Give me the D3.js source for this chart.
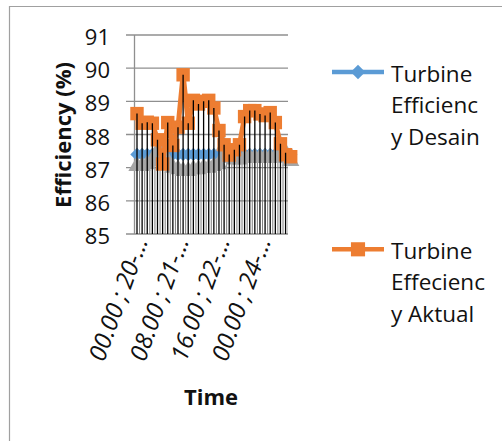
<!DOCTYPE html>
<html>
<head>
<meta charset="utf-8">
<script src="https://cdn.jsdelivr.net/npm/d3@7"></script>
<style>
  body { margin: 0; background: #fff; }
  svg { display: block; font-family: "Open Sans", sans-serif; }
</style>
</head>
<body>
<div id="chart"></div>
<script>
// categories every 4 hours (labels shown every 8th, cut like the original)
const categories = [
  "00.00 ; 20-…", "04.00 ; 20-…", "08.00 ; 20-…", "12.00 ; 20-…", "16.00 ; 20-…", "20.00 ; 20-…",
  "00.00 ; 21-…", "04.00 ; 21-…", "08.00 ; 21-…", "12.00 ; 21-…", "16.00 ; 21-…", "20.00 ; 21-…",
  "00.00 ; 22-…", "04.00 ; 22-…", "08.00 ; 22-…", "12.00 ; 22-…", "16.00 ; 22-…", "20.00 ; 22-…",
  "00.00 ; 23-…", "04.00 ; 23-…", "08.00 ; 23-…", "12.00 ; 23-…", "16.00 ; 23-…", "20.00 ; 23-…",
  "00.00 ; 24-…", "04.00 ; 24-…", "08.00 ; 24-…", "12.00 ; 24-…", "16.00 ; 24-…", "20.00 ; 24-…",
  "00.00 ; 25-…"
];
const shownLabels = ["00.00 ; 20-…", "08.00 ; 21-…", "16.00 ; 22-…", "00.00 ; 24-…"];

const desain = [
  87.4, 87.4, 87.4, 87.4, 87.4, 87.4, 87.4, 87.4, 87.4, 87.4, 87.4,
  87.4, 87.4, 87.4, 87.4, 87.4, 87.4, 87.4, 87.4, 87.4, 87.4, 87.4,
  87.4, 87.4, 87.4, 87.4, 87.4, 87.4, 87.4, 87.4, 87.4
];
const aktual = [
  88.63, 88.34, 88.37, 88.34, 87.84, 87.11, 88.36, 87.67, 88.22, 89.8, 88.34,
  89.03, 88.92, 89.0, 89.03, 88.8, 88.12, 87.69, 87.38, 87.54, 87.69, 88.54,
  88.72, 88.72, 88.62, 88.57, 88.66, 88.36, 87.72, 87.39, 87.33
];
const ketiga = [
  87.05, 87.05, 87.1, 87.2, 87.5, 87.45, 87.2, 87.0, 86.95, 86.9, 86.9,
  86.95, 86.95, 87.0, 87.0, 87.05, 87.1, 87.65, 87.3, 87.25, 87.25, 87.3,
  87.3, 87.3, 87.3, 87.3, 87.3, 87.3, 87.35, 87.45, 87.2
];
const yTicks = [85, 86, 87, 88, 89, 90, 91];

// diamond as wide as it is tall, like the office marker
const diamond = {
  draw(ctx, size) {
    const r = Math.sqrt(size / 2);
    ctx.moveTo(0, -r);
    ctx.lineTo(r, 0);
    ctx.lineTo(0, r);
    ctx.lineTo(-r, 0);
    ctx.closePath();
  }
};

const legendItems = [
  { lines: ["Turbine", "Efficienc", "y Desain"], color: "#5B9BD5", shape: diamond, size: 105 },
  { lines: ["Turbine", "Effecienc", "y Aktual"], color: "#ED7D31", shape: d3.symbolSquare, size: 200 }
];

const width = 502;
const height = 441;
const plot = { left: 134.5, right: 288, top: 35, bottom: 234 };

const svg = d3.select("#chart").append("svg")
  .attr("width", width)
  .attr("height", height);

// frame
svg.append("path")
  .attr("d", `M9.5,${height} V6.5 H${width}`)
  .attr("fill", "none")
  .attr("stroke", "#a0a0a0")
  .attr("stroke-width", 1.2);

const x = d3.scalePoint().domain(categories).range([137, 290.7]);
const y = d3.scaleLinear().domain([85, 91]).range([plot.bottom, plot.top]);

// horizontal gridlines
svg.append("g")
  .selectAll("line")
  .data(yTicks)
  .join("line")
  .attr("x1", 126)
  .attr("x2", plot.right)
  .attr("y1", d => y(d))
  .attr("y2", d => y(d))
  .attr("stroke", "#8f8f8f")
  .attr("stroke-width", 1.3);

// value axis line
svg.append("line")
  .attr("x1", plot.left).attr("x2", plot.left)
  .attr("y1", y(91)).attr("y2", y(85))
  .attr("stroke", "#8f8f8f")
  .attr("stroke-width", 1.3);

// y tick labels
svg.append("g")
  .selectAll("text")
  .data(yTicks)
  .join("text")
  .attr("x", 110)
  .attr("y", d => y(d) + 1)
  .attr("text-anchor", "end")
  .attr("dominant-baseline", "central")
  .attr("font-size", 22)
  .attr("fill", "#111")
  .text(d => d);

svg.append("clipPath").attr("id", "plot-clip")
  .append("rect")
  .attr("x", plot.left).attr("y", 0)
  .attr("width", plot.right - plot.left).attr("height", plot.bottom + 1);

// light lines between categories, up to the grey series
const mids = d3.range(categories.length - 1);
svg.append("g")
  .attr("clip-path", "url(#plot-clip)")
  .selectAll("line")
  .data(mids)
  .join("line")
  .attr("x1", i => (x(categories[i]) + x(categories[i + 1])) / 2)
  .attr("x2", i => (x(categories[i]) + x(categories[i + 1])) / 2)
  .attr("y1", y(85))
  .attr("y2", i => y(Math.min(ketiga[i], ketiga[i + 1])))
  .attr("stroke", "#6e6e6e")
  .attr("stroke-width", 0.9);

function drawSeries(values, color, shape, size) {
  const line = d3.line()
    .x((d, i) => x(categories[i]))
    .y(d => y(d));
  svg.append("path")
    .datum(values)
    .attr("d", line)
    .attr("fill", "none")
    .attr("stroke", color)
    .attr("stroke-width", 5)
    .attr("stroke-linejoin", "round");
  svg.append("g")
    .selectAll("path")
    .data(values)
    .join("path")
    .attr("transform", (d, i) => `translate(${x(categories[i])},${y(d)})`)
    .attr("d", d3.symbol().type(shape).size(size))
    .attr("fill", color);
}

drawSeries(desain, "#5B9BD5", diamond, 90);
drawSeries(ketiga, "#A5A5A5", d3.symbolTriangle, 130);
drawSeries(aktual, "#ED7D31", d3.symbolSquare, 180);

// drop lines from highest value to the axis
svg.append("g")
  .attr("clip-path", "url(#plot-clip)")
  .selectAll("line")
  .data(categories)
  .join("line")
  .attr("x1", d => x(d))
  .attr("x2", d => x(d))
  .attr("y1", y(85))
  .attr("y2", (d, i) => y(Math.max(desain[i], aktual[i], ketiga[i])))
  .attr("stroke", "#000")
  .attr("stroke-width", 1.3);

// category labels
svg.append("g")
  .selectAll("text")
  .data(shownLabels)
  .join("text")
  .attr("transform", d => `translate(${x(d) + 11.3},241) rotate(-70)`)
  .attr("text-anchor", "end")
  .attr("font-size", 24)
  .attr("font-style", "italic")
  .attr("fill", "#111")
  .text(d => d);

// axis titles
svg.append("text")
  .attr("transform", "translate(71,135) rotate(-90)")
  .attr("text-anchor", "middle")
  .attr("font-size", 22)
  .attr("font-weight", "bold")
  .attr("fill", "#111")
  .text("Efficiency (%)");

svg.append("text")
  .attr("x", 211)
  .attr("y", 405)
  .attr("text-anchor", "middle")
  .attr("font-size", 22)
  .attr("font-weight", "bold")
  .attr("fill", "#111")
  .text("Time");

// legend
const legendTop = [72, 249.3];
const legend = svg.append("g")
  .selectAll("g")
  .data(legendItems)
  .join("g")
  .attr("transform", (d, i) => `translate(0,${legendTop[i]})`);

legend.append("line")
  .attr("x1", 332).attr("x2", 384)
  .attr("stroke", d => d.color)
  .attr("stroke-width", 4.5);

legend.append("path")
  .attr("transform", "translate(358,0)")
  .attr("d", d => d3.symbol().type(d.shape).size(d.size)())
  .attr("fill", d => d.color);

legend.append("text")
  .attr("x", 391)
  .attr("y", 9.5)
  .attr("font-size", 22.5)
  .attr("fill", "#111")
  .selectAll("tspan")
  .data(d => d.lines)
  .join("tspan")
  .attr("x", 391)
  .attr("dy", (d, i) => (i === 0 ? 0 : 31.7))
  .text(d => d);
</script>
</body>
</html>
